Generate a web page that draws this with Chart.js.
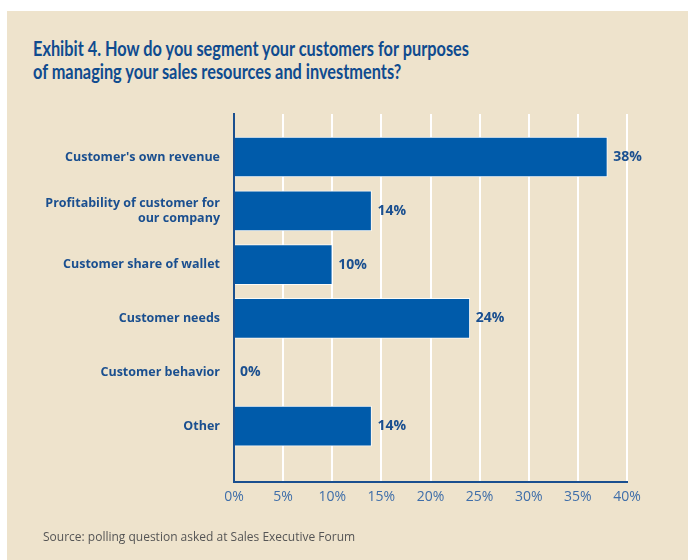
<!DOCTYPE html>
<html>
<head>
<meta charset="utf-8">
<script src="https://cdn.jsdelivr.net/npm/chart.js@4.4.0/dist/chart.umd.min.js"></script>
<style>
  html, body { margin: 0; padding: 0; background: #fff; }
  body { width: 688px; height: 560px; position: relative; overflow: hidden; font-family: "Open Sans", sans-serif; }
  #panel { position: absolute; left: 7px; top: 11px; right: 0; bottom: 0; background: #EEE3CC; }
  #title { position: absolute; left: 33px; top: 36px; margin: 0; font-family: Lato, sans-serif; font-size: 21px; line-height: 23px; font-weight: 700; color: #0F4B8F; white-space: nowrap; transform-origin: 0 0; }
  #source { position: absolute; left: 43px; top: 529px; font-size: 12px; line-height: 16px; color: #555; }
  #wrap { position: absolute; left: 0; top: 0; width: 688px; height: 560px; }
</style>
</head>
<body>
<div id="panel"></div>
<div id="title"><span id="t1">Exhibit 4. How do you segment your customers for purposes</span><br>of managing your sales resources and investments?</div>
<div id="wrap"><canvas id="chart" width="688" height="560"></canvas></div>
<div id="source">Source: polling question asked at Sales Executive Forum</div>
<script>
// survey answers, one bar per category
const categories = [
    "Customer's own revenue",
    ["Profitability of customer for", "our company"],
    "Customer share of wallet",
    "Customer needs",
    "Customer behavior",
    "Other"
];
const values = [38, 14, 10, 24, 0, 14];
const xTickValues = [0, 5, 10, 15, 20, 25, 30, 35, 40];

const BLUE_DARK = '#1A4F8F';
const BAR_BLUE = '#005BAA';

// squeeze the title so the first line fits its width
const title = document.getElementById('title');
const w = document.getElementById('t1').getBoundingClientRect().width;
title.style.transform = `scaleX(${436 / w})`;

// percentage next to the end of each bar
const valueLabels = {
    id: 'valueLabels',
    afterDatasetsDraw(chart) {
        const { ctx } = chart;
        const meta = chart.getDatasetMeta(0);
        ctx.save();
        ctx.font = 'bold 14px "Open Sans"';
        ctx.fillStyle = BLUE_DARK;
        ctx.textBaseline = 'middle';
        ctx.textAlign = 'left';
        meta.data.forEach((bar, i) => {
            ctx.fillText(values[i] + '%', bar.x + 6, bar.y);
        });
        ctx.restore();
    }
};

new Chart(document.getElementById('chart').getContext('2d'), {
    type: 'bar',
    data: {
        datasets: [{
            data: values.map((v, i) => ({ x: v, y: i })),
            backgroundColor: BAR_BLUE,
            borderColor: 'rgba(255,255,255,0.8)',
            borderWidth: ctx => (ctx.raw && ctx.raw.x ? 1 : 0),
            borderSkipped: 'start',
            barThickness: 40
        }]
    },
    options: {
        indexAxis: 'y',
        responsive: false,
        animation: false,
        layout: { padding: { left: 0, top: 114, right: 61, bottom: 38 } },
        plugins: {
            legend: { display: false },
            tooltip: { enabled: false }
        },
        scales: {
            x: {
                type: 'linear',
                min: 0,
                max: 40,
                afterBuildTicks: s => { s.ticks = xTickValues.map(v => ({ value: v })); },
                afterFit: s => { s.height = 40; },
                grid: { color: '#ffffff', lineWidth: 2, drawTicks: false },
                border: { color: BLUE_DARK, width: 2 },
                ticks: {
                    padding: 7,
                    maxRotation: 0,
                    color: '#3F6EA9',
                    font: { family: '"Open Sans"', size: 14 },
                    callback: v => v + '%'
                }
            },
            y: {
                type: 'linear',
                reverse: true,
                offset: false,
                min: -0.8,
                max: 6.04,
                afterBuildTicks: s => { s.ticks = categories.map((c, i) => ({ value: i })); },
                afterFit: s => { s.width = 234; },
                grid: { display: false, drawTicks: false },
                border: { display: true, color: BLUE_DARK, width: 2 },
                ticks: {
                    autoSkip: false,
                    padding: 14,
                    color: BLUE_DARK,
                    font: { family: '"Open Sans"', size: 12.5, weight: 'bold', lineHeight: 1.25 },
                    callback: v => categories[v]
                }
            }
        }
    },
    plugins: [valueLabels]
});
</script>
</body>
</html>
